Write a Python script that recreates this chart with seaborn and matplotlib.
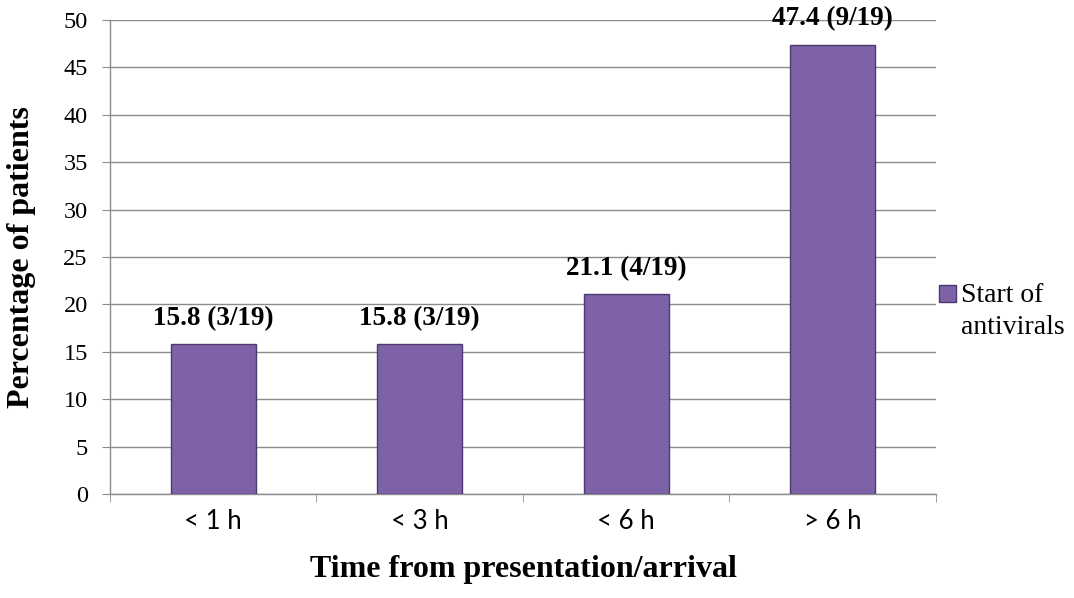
import matplotlib
matplotlib.use("Agg")
import matplotlib.pyplot as plt
from matplotlib.patches import Rectangle
from matplotlib.legend_handler import HandlerPatch
import pandas as pd
import seaborn as sns

# data
categories = ["< 1 h", "< 3 h", "< 6 h", "> 6 h"]
percentages = [15.8, 15.8, 21.1, 47.4]
counts = ["3/19", "3/19", "4/19", "9/19"]
series_name = "Start of\nantivirals"

df = pd.DataFrame({"time": categories, "pct": percentages, "series": series_name})

sns.set_style("white")
plt.rcParams["font.family"] = ["Liberation Serif", "DejaVu Serif"]
plt.rcParams["text.color"] = "black"
plt.rcParams["axes.labelcolor"] = "black"

fig = plt.figure(figsize=(10.74, 5.98), dpi=100)
ax = fig.add_axes([0.1024, 0.1739, 0.7691, 0.7927])

bar_color = "#7A57B2"
sns.barplot(data=df, x="time", y="pct", hue="series", palette=[bar_color],
            width=0.41, edgecolor="#4E3A70", linewidth=1.0, ax=ax, zorder=3)

ax.set_ylim(0, 50)
ax.set_yticks(range(0, 51, 5))
ax.set_xlim(-0.5, 3.5)
ax.yaxis.grid(True, color="#8c8c8c", linewidth=1.0, zorder=0)
ax.set_axisbelow(True)

for s in ["top", "right"]:
    ax.spines[s].set_visible(False)
for s in ["left", "bottom"]:
    ax.spines[s].set_color("#8c8c8c")
    ax.spines[s].set_linewidth(1.0)

# y ticks on the left, x ticks only at category boundaries
ax.tick_params(axis="y", which="major", left=True, length=6, color="#8c8c8c",
               labelsize=17.5, labelcolor="black", pad=10)
ax.tick_params(axis="x", which="major", bottom=False, labelsize=18.5,
               labelcolor="black", pad=7)
ax.set_xticks([-0.5, 0.5, 1.5, 2.5, 3.5], minor=True)
ax.tick_params(axis="x", which="minor", bottom=True, length=6, color="#8c8c8c")
for lab in ax.get_xticklabels():
    lab.set_fontfamily(["Lato", "DejaVu Sans"])

ax.set_xlabel("Time from presentation/arrival", fontsize=23, fontweight="bold", color="black")
ax.set_ylabel("Percentage of patients", fontsize=23, fontweight="bold", color="black")
ax.xaxis.set_label_coords(0.5, -0.128)
ax.yaxis.set_label_coords(-0.09, 0.5)

for i, (p, c) in enumerate(zip(percentages, counts)):
    ax.text(i, p + 1.4, f"{p} ({c})", ha="center", va="bottom",
            fontsize=19.5, fontweight="bold", color="black")


# legend marker sits beside the first line of the two-line label
def top_square(legend, orig_handle, xdescent, ydescent, width, height, fontsize):
    side = 0.61 * fontsize
    return Rectangle((-xdescent, 1.0 * fontsize - side / 2), side, side)


leg = ax.legend(loc="center left", bbox_to_anchor=(1.0036, 0.385), frameon=False,
                fontsize=20, handlelength=0.61, handletextpad=0.18,
                borderaxespad=0, borderpad=0,
                handler_map={Rectangle: HandlerPatch(patch_func=top_square)})
for t in leg.get_texts():
    t.set_color("black")
    t.set_linespacing(1.38)

fig.savefig("out.png", dpi=100)
